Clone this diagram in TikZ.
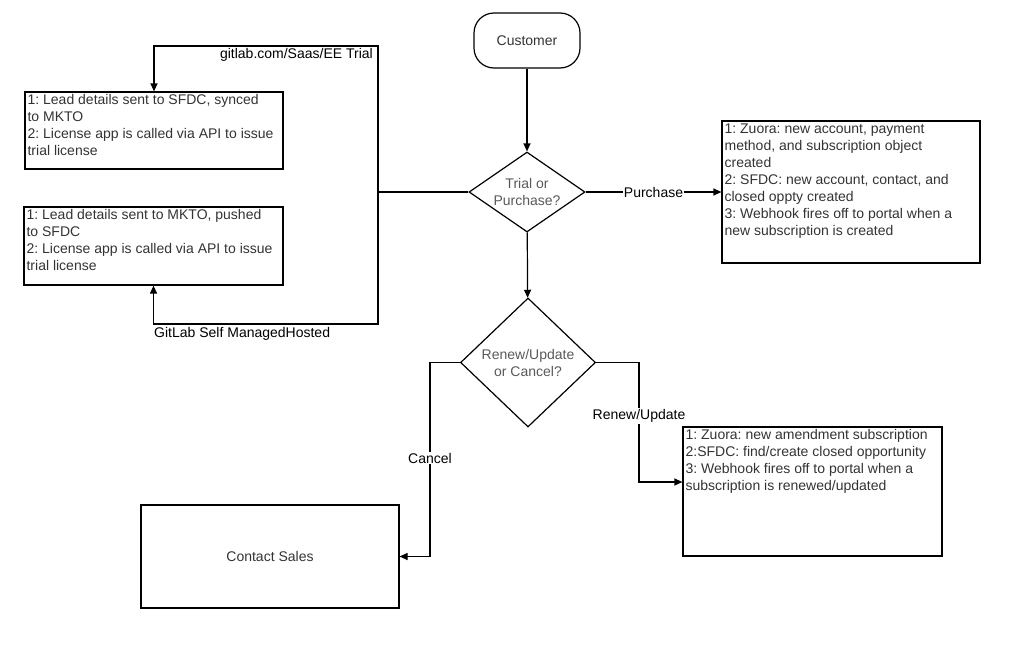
\documentclass[tikz,border=0pt]{standalone}
\usepackage{fontspec}
\setmainfont{Liberation Sans}
\usetikzlibrary{shapes.geometric, arrows.meta}

\begin{document}
\frenchspacing
\begin{tikzpicture}[
    x=1pt, y=-1pt,
    font=\fontsize{14}{17}\selectfont,
    box/.style={draw, line width=1.2pt, inner sep=0pt},
    boxtxt/.style={anchor=north west, align=left, inner sep=3pt, text=black!80},
    choice/.style={draw, diamond, line width=1.2pt, inner sep=0pt, align=center, text=black!65},
    arrow/.style={-{Triangle[length=8pt, width=7pt]}, line width=1.2pt},
    lbl/.style={fill=white, inner sep=1pt}
]
\useasboundingbox (0,0) rectangle (1035,648);

% start
\node[box, rounded corners=20pt, minimum width=106pt, minimum height=55pt, text=black!80] (customer) at (527,40.5) {Customer};

% decisions
\node[choice, aspect=1.45, minimum width=116pt, minimum height=80pt] (trial) at (527,192) {Trial or\\Purchase?};
\node[choice, aspect=1.05, minimum width=135pt, minimum height=129pt] (renew) at (528,362.5) {Renew/Update\\or Cancel?};

% trial boxes
\node[box, minimum width=258pt, minimum height=77pt] (saas) at (154,130.5) {};
\node[boxtxt] (saastxt) at (saas.north west) {1: Lead details sent to SFDC, synced\\to MKTO\\2: License app is called via API to issue\\trial license};
\node[box, minimum width=259pt, minimum height=78pt] (selfhost) at (153.5,246) {};
\node[boxtxt] (selfhosttxt) at (selfhost.north west) {1: Lead details sent to MKTO, pushed\\to SFDC\\2: License app is called via API to issue\\trial license};

% purchase box
\node[box, minimum width=258pt, minimum height=142pt] (purchase) at (851,192) {};
\node[boxtxt] (purchasetxt) at (purchase.north west) {1: Zuora: new account, payment\\method, and subscription object\\created\\2: SFDC: new account, contact, and\\closed oppty created\\3: Webhook fires off to portal when a\\new subscription is created};

% renew box
\node[box, minimum width=259pt, minimum height=129pt] (update) at (812.5,491.5) {};
\node[boxtxt] (updatetxt) at (update.north west) {1: Zuora: new amendment subscription\\2:SFDC: find/create closed opportunity\\3: Webhook fires off to portal when a\\subscription is renewed/updated};

% cancel box
\node[box, minimum width=258pt, minimum height=103pt, text=black!80] (sales) at (270,556.5) {Contact Sales};

% bend points
\coordinate (saasbend) at (378,46);
\coordinate (selfbend) at (378,324);
\coordinate (renewbend) at (639,416);
\coordinate (cancelbend) at (430,458);

\draw[arrow] (customer) -- (trial);
\draw[arrow] (trial) -- (renew);
\draw[arrow] (trial.west) -| (saasbend) -| (saas.north);
\draw[arrow] (trial.west) -| (selfbend) -| (selfhost.south);
\node[anchor=north east, inner sep=1pt] (saaslbl) at (374,47) {gitlab.com/Saas/EE Trial};
\node[anchor=north west, inner sep=1pt] (selflbl) at (153,326) {GitLab Self ManagedHosted};
\draw[arrow] (trial.east) -- node[lbl] {Purchase} (purchase.west);
\draw[arrow] (renew.east) -| (renewbend) |- ([yshift=9.5pt]update.west);
\node[lbl] at (renewbend) {Renew/Update};
\draw[arrow] (renew.west) -| (cancelbend) |- (sales.east);
\node[lbl] at (cancelbend) {Cancel};
\end{tikzpicture}
\end{document}
